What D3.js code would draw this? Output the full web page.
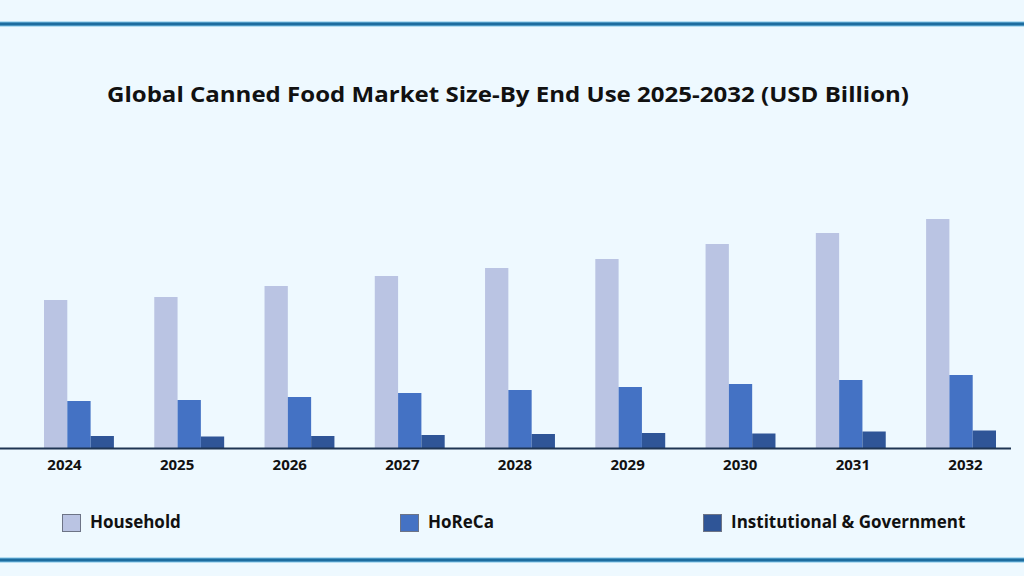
<!DOCTYPE html>
<html>
<head>
<meta charset="utf-8">
<script src="https://cdn.jsdelivr.net/npm/d3@7"></script>
<style>
  html, body { margin: 0; padding: 0; background: #eef9ff; }
  svg { display: block; }
</style>
</head>
<body>
<svg id="chart" width="1024" height="576"></svg>
<script>
const years = ["2024", "2025", "2026", "2027", "2028", "2029", "2030", "2031", "2032"];
const seriesNames = ["Household", "HoReCa", "Institutional & Government"];
const household = [59.2, 60.4, 64.8, 68.8, 72.0, 75.6, 81.6, 86.0, 91.6];
const horeca = [18.8, 19.2, 20.4, 22.0, 23.2, 24.4, 25.6, 27.2, 29.2];
const institutional = [4.8, 4.6, 4.8, 5.2, 5.6, 6.0, 5.8, 6.6, 7.0];
const colors = ["#bac4e3", "#4472c4", "#2f5597"];

const svg = d3.select("#chart");
const width = 1024;
const baseY = 448;
const font = "'Open Sans', Lato, sans-serif";

// frame lines top and bottom
[24, 560].forEach(y => {
  svg.append("rect").attr("x", 0).attr("y", y - 2.5).attr("width", width).attr("height", 5)
    .attr("fill", "#7cc3e6");
  svg.append("rect").attr("x", 0).attr("y", y - 1.5).attr("width", width).attr("height", 3)
    .attr("fill", "#1d6d9f");
});

svg.append("text")
  .attr("x", 508)
  .attr("y", 102)
  .attr("text-anchor", "middle")
  .attr("font-family", font)
  .attr("font-weight", "bold")
  .attr("font-size", 21)
  .attr("textLength", 802)
  .attr("lengthAdjust", "spacingAndGlyphs")
  .attr("fill", "#111")
  .text("Global Canned Food Market Size-By End Use 2025-2032 (USD Billion)");

const data = years.map((yr, i) => ({
  year: yr,
  values: [household[i], horeca[i], institutional[i]]
}));

const x0 = d3.scaleBand().domain(years).range([44, 996]).paddingInner(0.366).paddingOuter(0);
const x1 = d3.scaleBand().domain(seriesNames).range([0, x0.bandwidth()]);
const y = d3.scaleLinear().domain([0, 100]).range([baseY, baseY - 250]);
const labelX = d3.scalePoint().domain(years).range([64, 965]);

const groups = svg.append("g")
  .selectAll("g")
  .data(data)
  .enter()
  .append("g")
  .attr("transform", d => `translate(${x0(d.year)},0)`);

groups.selectAll("rect")
  .data(d => d.values.map((v, k) => ({ key: seriesNames[k], value: v, k })))
  .enter()
  .append("rect")
  .attr("x", d => x1(d.key))
  .attr("y", d => y(d.value))
  .attr("width", x1.bandwidth())
  .attr("height", d => baseY - y(d.value))
  .attr("fill", d => colors[d.k]);

// baseline
svg.append("line")
  .attr("x1", 0).attr("x2", 1011)
  .attr("y1", baseY + 0.5).attr("y2", baseY + 0.5)
  .attr("stroke", "#1e3553")
  .attr("stroke-width", 2);

const xAxis = svg.append("g")
  .attr("transform", `translate(0,${baseY})`)
  .call(d3.axisBottom(labelX).tickSize(0).tickPadding(11));
xAxis.select(".domain").remove();
xAxis.selectAll("text")
  .attr("font-family", font)
  .attr("font-weight", "bold")
  .attr("font-size", 15)
  .attr("fill", "#111");

// legend
const legendX = [62, 400, 703];
const legend = svg.append("g")
  .selectAll("g")
  .data(seriesNames)
  .enter()
  .append("g")
  .attr("transform", (d, i) => `translate(${legendX[i]},514)`);
legend.append("rect")
  .attr("x", 0.5).attr("y", 0.5)
  .attr("width", 18).attr("height", 17)
  .attr("fill", (d, i) => colors[i])
  .attr("stroke", "#6d7486")
  .attr("stroke-width", 1);
legend.append("text")
  .attr("x", 28)
  .attr("y", 8)
  .attr("dy", "0.35em")
  .attr("font-family", font)
  .attr("font-weight", "bold")
  .attr("font-size", 17)
  .attr("fill", "#111")
  .text(d => d);
</script>
</body>
</html>
